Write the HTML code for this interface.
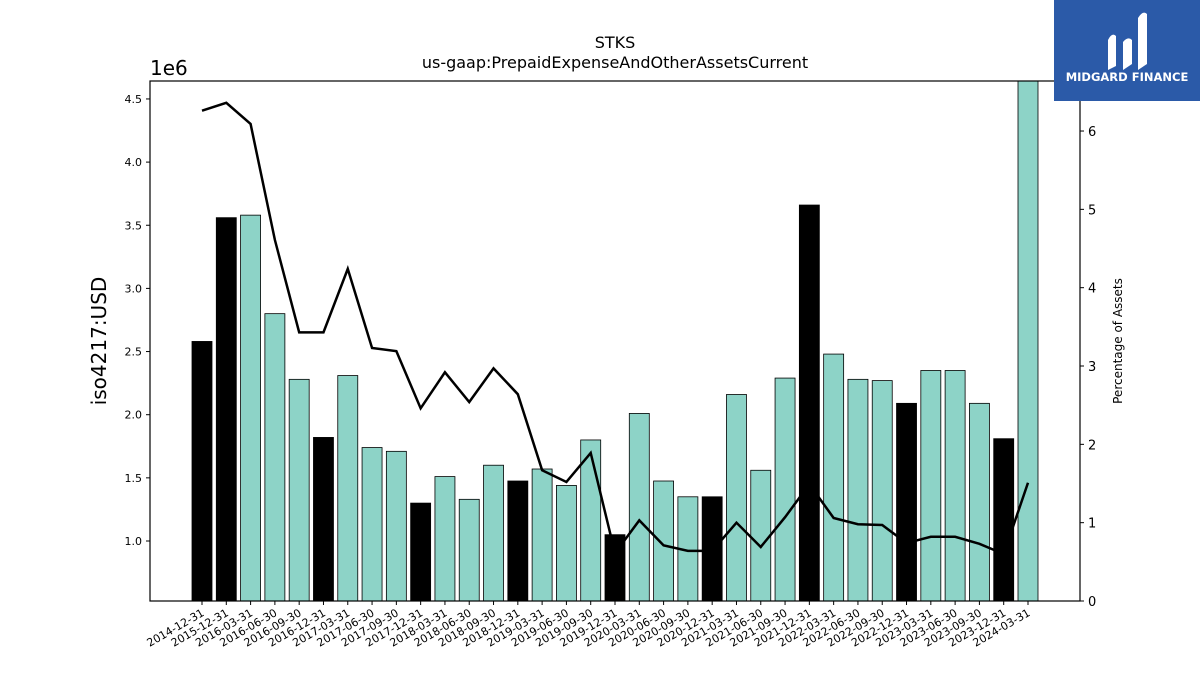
<!DOCTYPE html>
<html><head><meta charset="utf-8"><style>
body{margin:0;background:#fff;font-family:"Liberation Sans","DejaVu Sans",sans-serif}
svg text{font-family:"DejaVu Sans","Liberation Sans",sans-serif}
</style></head><body>
<svg id="chart" width="1200" height="675" xmlns="http://www.w3.org/2000/svg">
<rect width="1200" height="675" fill="#fff"/>
<text x="615" y="48" font-size="16" text-anchor="middle">STKS</text>
<text x="615" y="68" font-size="16" text-anchor="middle">us-gaap:PrepaidExpenseAndOtherAssetsCurrent</text>
<text x="150" y="75" font-size="20">1e6</text>
<text transform="translate(106,341) rotate(-90)" font-size="20" text-anchor="middle">iso4217:USD</text>
<text transform="translate(1122,341) rotate(-90)" font-size="12" text-anchor="middle">Percentage of Assets</text>
<g id="bars"></g>
<g id="line"></g>
<g id="axes"></g>
<g>
<rect x="1054" y="0" width="146" height="101" fill="#2b5aa8"/>
<path d="M1108 70 L1108 40 Q1112 32 1116 36 L1116 66 Z M1123 70 L1123 42 Q1128 36 1132 40 L1132 64 Z M1138 70 L1138 18 Q1143 10 1147 14 L1147 64 Z" fill="#fff"/>
<text x="1127" y="81" font-size="11.5" font-weight="bold" fill="#fff" text-anchor="middle">MIDGARD FINANCE</text>
</g>
</svg>
<script>
const categories=["2014-12-31","2015-12-31","2016-03-31","2016-06-30","2016-09-30","2016-12-31","2017-03-31","2017-06-30","2017-09-30","2017-12-31","2018-03-31","2018-06-30","2018-09-30","2018-12-31","2019-03-31","2019-06-30","2019-09-30","2019-12-31","2020-03-31","2020-06-30","2020-09-30","2020-12-31","2021-03-31","2021-06-30","2021-09-30","2021-12-31","2022-03-31","2022-06-30","2022-09-30","2022-12-31","2023-03-31","2023-06-30","2023-09-30","2023-12-31","2024-03-31"];
const values=[2.58,3.56,3.58,2.80,2.28,1.82,2.31,1.74,1.71,1.30,1.51,1.33,1.60,1.475,1.57,1.44,1.80,1.05,2.01,1.475,1.35,1.35,2.16,1.56,2.29,3.66,2.48,2.28,2.27,2.09,2.35,2.35,2.09,1.81,4.8];
const pct=[6.26,6.36,6.09,4.61,3.43,3.43,4.24,3.23,3.19,2.46,2.92,2.54,2.97,2.64,1.67,1.52,1.89,0.61,1.03,0.71,0.64,0.64,1.00,0.69,1.07,1.49,1.06,0.98,0.97,0.74,0.82,0.82,0.73,0.60,1.51];
const annual=[1,1,0,0,0,1,0,0,0,1,0,0,0,1,0,0,0,1,0,0,0,1,0,0,0,1,0,0,0,1,0,0,0,1,0];
const yTicks=[1.0,1.5,2.0,2.5,3.0,3.5,4.0,4.5];
const y2Ticks=[0,1,2,3,4,5,6];
const L=150,R=1080,T=81,B=601,n=categories.length;
const NS="http://www.w3.org/2000/svg";
const x=i=>202+i*(1028-202)/(n-1);
const y=v=>541-(v-1.0)*126.3;
const y2=v=>601-v*78.33;
function mk(tag,attrs,parent){const e=document.createElementNS(NS,tag);for(const k in attrs)e.setAttribute(k,attrs[k]);parent.appendChild(e);return e;}
const bars=document.getElementById('bars'),line=document.getElementById('line'),axes=document.getElementById('axes');
const clip=mk('clipPath',{id:'pc'},document.getElementById('chart'));mk('rect',{x:L,y:T,width:R-L,height:B-T},clip);
bars.setAttribute('clip-path','url(#pc)');
values.forEach((v,i)=>{const top=y(v);const r=mk('rect',{x:x(i)-10,y:top,width:20,height:B-top,fill:annual[i]?'#000':'#8dd3c7',stroke:'#000','stroke-width':0.8},bars);

});
const p=mk('polyline',{points:pct.map((v,i)=>x(i)+','+y2(v)).join(' '),fill:'none',stroke:'#000','stroke-width':2.5},line);


mk('rect',{x:L,y:T,width:R-L,height:B-T,fill:'none',stroke:'#000','stroke-width':1.2},axes);
yTicks.forEach(v=>{const yy=y(v);mk('line',{x1:L-4,x2:L,y1:yy,y2:yy,stroke:'#000'},axes);const t=mk('text',{x:L-8,y:yy+4,'font-size':11,'text-anchor':'end'},axes);t.textContent=v.toFixed(1);

});
y2Ticks.forEach(v=>{const yy=y2(v);mk('line',{x1:R,x2:R+4,y1:yy,y2:yy,stroke:'#000'},axes);const t=mk('text',{x:R+8,y:yy+5,'font-size':13},axes);t.textContent=v;

});
categories.forEach((c,i)=>{const xx=x(i);mk('line',{x1:xx,x2:xx,y1:B,y2:B+4,stroke:'#000'},axes);const t=mk('text',{x:xx+3,y:B+14,'font-size':11,'text-anchor':'end',transform:`rotate(-30 ${xx+3} ${B+14})`},axes);t.textContent=c;

});
</script>
</body></html>
